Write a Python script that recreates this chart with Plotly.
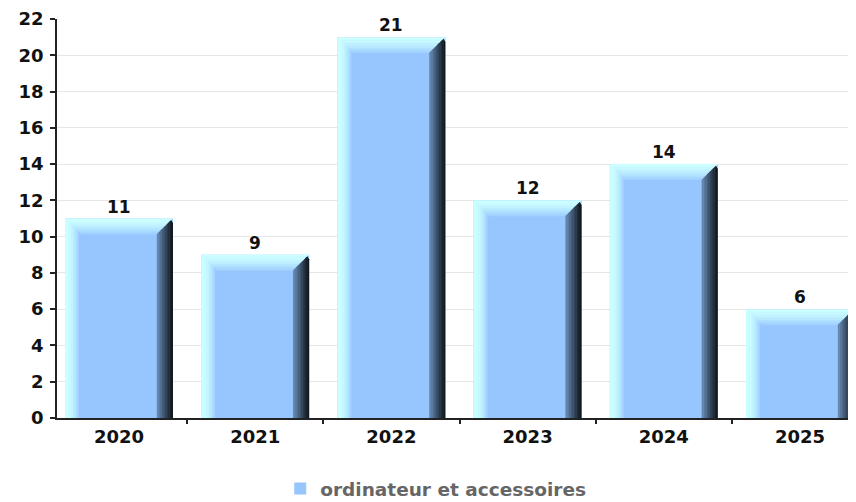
import plotly.graph_objects as go

categories = ["2020", "2021", "2022", "2023", "2024", "2025"]
values = [11, 9, 21, 12, 14, 6]
series_name = "ordinateur et accessoires"
y_ticks = list(range(0, 23, 2))

FRONT = (151, 198, 255)
BAR_W = 0.793
BX = 0.115   # bevel width in x units
BY = 0.85    # bevel height in y units
N = 10


def lerp(c1, c2, t):
    return "rgb(%d,%d,%d)" % tuple(round(a + (b - a) * t) for a, b in zip(c1, c2))


xs = list(range(len(categories)))

fig = go.Figure()
fig.add_trace(go.Bar(
    x=xs, y=values, width=BAR_W, name=series_name,
    marker=dict(color="rgb(%d,%d,%d)" % FRONT, line=dict(width=0)),
    showlegend=True,
))

shapes = []
eps = 0.004
for i, v in zip(xs, values):
    x0, x1 = i - BAR_W / 2, i + BAR_W / 2
    # left bevel
    for k in range(N):
        t = k / (N - 1)
        col = lerp((204, 255, 255), FRONT, t ** 2.0)
        xa = x0 + BX * k / N
        xb = x0 + BX * (k + 1) / N + eps
        ya = v - BY * k / N
        yb = v - BY * (k + 1) / N
        shapes.append(dict(type="path", xref="x", yref="y", layer="above",
                           path=f"M{xa},0 L{xa},{ya} L{xb},{yb} L{xb},0 Z",
                           fillcolor=col, line=dict(width=0)))
    # top bevel
    for k in range(N):
        t = k / (N - 1)
        col = lerp((204, 255, 255), (162, 210, 255), t ** 1.5)
        ya = v - BY * k / N
        yb = v - BY * (k + 1) / N - 0.03
        xla = x0 + BX * k / N
        xlb = x0 + BX * (k + 1) / N
        xra = x1 - BX * k / N
        xrb = x1 - BX * (k + 1) / N
        shapes.append(dict(type="path", xref="x", yref="y", layer="above",
                           path=f"M{xla},{ya} L{xra},{ya} L{xrb},{yb} L{xlb},{yb} Z",
                           fillcolor=col, line=dict(width=0)))
    # right bevel (dark)
    for k in range(N):
        t = k / (N - 1)
        col = lerp((16, 22, 30), (100, 135, 175), t ** 1.1)
        xa = x1 - BX * k / N
        xb = x1 - BX * (k + 1) / N - eps
        ya = v - BY * k / N - (0.25 if k == 0 else 0)
        yb = v - BY * (k + 1) / N
        shapes.append(dict(type="path", xref="x", yref="y", layer="above",
                           path=f"M{xa},0 L{xa},{ya} L{xb},{yb} L{xb},0 Z",
                           fillcolor=col, line=dict(width=0)))

annotations = [
    dict(x=i, y=v, xref="x", yref="y", text=str(v), showarrow=False,
         yanchor="bottom", xanchor="center", yshift=0,
         font=dict(family="DejaVu Sans", size=17, color="#111", weight="bold"))
    for i, v in zip(xs, values)
]

XR = [-0.455, 5.411]

# note: the page body has an 8px margin, so the figure is sized 8px smaller
fig.update_layout(
    width=848, height=494,
    margin=dict(l=49, r=0, t=11, b=84, autoexpand=False),
    paper_bgcolor="white", plot_bgcolor="white",
    shapes=shapes, annotations=annotations,
    font=dict(family="DejaVu Sans", size=18, color="#111"),
    legend=dict(orientation="h", x=0.474, xanchor="center", y=-0.178, yanchor="middle",
                font=dict(family="DejaVu Sans", size=18.5, color="#666", weight="bold")),
    xaxis=dict(range=XR, tickmode="array", tickvals=xs, ticktext=categories,
               ticks="", showgrid=False, zeroline=False, ticklabelstandoff=2,
               showline=True, linecolor="#222", linewidth=1.5,
               tickfont=dict(family="DejaVu Sans", size=18, color="#111", weight="bold")),
    xaxis2=dict(range=XR, overlaying="x", side="bottom", tickmode="array",
                tickvals=[0.5, 1.5, 2.5, 3.5, 4.5], ticks="outside", ticklen=5,
                tickcolor="#222", tickwidth=1.5, showticklabels=False,
                showgrid=False, zeroline=False, showline=False),
    yaxis=dict(range=[0, 22], tickmode="array", tickvals=y_ticks,
               ticks="outside", ticklen=5, tickcolor="#222", tickwidth=1.5,
               ticklabelstandoff=3,
               showgrid=True, gridcolor="#e6e6e6", gridwidth=1,
               zeroline=False, showline=True, linecolor="#222", linewidth=1.5,
               tickfont=dict(family="DejaVu Sans", size=18, color="#111", weight="bold")),
)
fig.add_trace(go.Scatter(x=[0], y=[0], xaxis="x2", mode="markers",
                         marker=dict(opacity=0), showlegend=False, hoverinfo="skip"))

fig.write_html("out.html", config={"displayModeBar": False})
